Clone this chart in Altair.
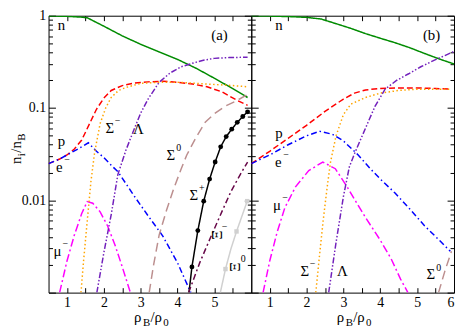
import altair as alt
import pandas as pd

FONT = "Liberation Serif"
W, H = 205, 280

# ---------------- panel (a) ----------------
a_n_x = [0.5, 1.0, 1.4, 1.55, 2.0, 2.5, 3.0, 3.5, 4.0, 4.5, 5.0, 5.5, 5.9]
a_n_y = [0.995, 0.985, 0.965, 0.95, 0.77, 0.605, 0.49, 0.405, 0.336, 0.27, 0.21, 0.162, 0.13]
a_p_x = [0.5, 0.8, 1.0, 1.2, 1.4, 1.6, 1.8, 2.0, 2.2, 2.5, 2.8, 3.2, 3.6, 4.0, 4.4, 4.8, 5.2, 5.6, 5.9]
a_p_y = [0.025, 0.028, 0.031, 0.036, 0.045, 0.066, 0.097, 0.128, 0.155, 0.175, 0.186, 0.192, 0.195, 0.19, 0.182, 0.17, 0.15, 0.122, 0.107]
a_e_x = [0.5, 0.8, 1.0, 1.3, 1.58, 1.8, 2.0, 2.2, 2.38, 2.8, 3.2, 3.6, 4.0, 4.36]
a_e_y = [0.025, 0.028, 0.031, 0.036, 0.042, 0.034, 0.029, 0.024, 0.0205, 0.0115, 0.0068, 0.0041, 0.0021, 0.001]
a_mu_x = [0.8, 1.0, 1.2, 1.4, 1.55, 1.7, 1.9, 2.1, 2.3, 2.5, 2.72]
a_mu_y = [0.001, 0.0022, 0.0042, 0.0072, 0.0097, 0.0093, 0.0075, 0.0053, 0.0033, 0.0019, 0.001]
a_sm_x = [1.38, 1.45, 1.55, 1.65, 1.75, 1.9, 2.05, 2.2, 2.4, 2.6, 3.0, 3.5, 4.0, 4.5, 5.0, 5.5, 5.9]
a_sm_y = [0.001, 0.0022, 0.006, 0.016, 0.033, 0.068, 0.1, 0.13, 0.155, 0.167, 0.185, 0.19, 0.19, 0.185, 0.18, 0.175, 0.17]
a_la_x = [1.81, 2.0, 2.2, 2.38, 2.6, 2.8, 3.0, 3.2, 3.5, 3.8, 4.1, 4.4, 4.7, 5.0, 5.4, 5.9]
a_la_y = [0.001, 0.0027, 0.007, 0.019, 0.035, 0.056, 0.088, 0.125, 0.19, 0.24, 0.28, 0.305, 0.33, 0.345, 0.352, 0.355]
a_s0_x = [3.23, 3.35, 3.5, 3.7, 3.9, 4.1, 4.25, 4.5, 4.75, 5.0, 5.3, 5.6, 5.9]
a_s0_y = [0.001, 0.002, 0.0042, 0.0078, 0.0135, 0.022, 0.031, 0.048, 0.07, 0.087, 0.105, 0.12, 0.14]
a_sp_x = [4.31, 4.39, 4.55, 4.71, 4.87, 5.02, 5.17, 5.32, 5.47, 5.62, 5.77, 5.9]
a_sp_y = [0.001, 0.0019, 0.0047, 0.0098, 0.017, 0.026, 0.038, 0.049, 0.059, 0.07, 0.081, 0.091]
a_xm_x = [4.3, 4.6, 4.9, 5.2, 5.45, 5.7, 5.9]
a_xm_y = [0.001, 0.0021, 0.004, 0.0075, 0.0125, 0.019, 0.026]
a_x0_x = [5.16, 5.3, 5.45, 5.6, 5.75, 5.89]
a_x0_y = [0.001, 0.0018, 0.003, 0.0046, 0.0068, 0.0098]

a_lab_text = ["n", "(a)", "p", "e", "Σ", "Λ", "Σ", "Σ", "μ"]
a_lab_x = [0.85, 5.14, 0.85, 0.79, 2.16, 2.94, 3.82, 4.44, 0.74]
a_lab_y = [0.79, 0.62, 0.044, 0.023, 0.061, 0.059, 0.031, 0.0113, 0.00284]
a_sup_text = ["−", "−", "0", "+", "−"]
a_sup_x = [0.79, 2.16, 3.82, 4.44, 0.74]
a_sup_y = [0.023, 0.061, 0.031, 0.0113, 0.00284]
a_rot_text = ["Ξ", "Ξ"]
a_rot_x = [5.06, 5.57]
a_rot_y = [0.0042, 0.0019]
a_rsup_text = ["−", "0"]

# ---------------- panel (b) ----------------
b_n_x = [0.5, 1.0, 1.5, 2.0, 2.4, 2.8, 3.2, 3.6, 4.0, 4.4, 4.8, 5.2, 5.6, 6.0]
b_n_y = [1.0, 0.99, 0.98, 0.96, 0.92, 0.82, 0.73, 0.64, 0.57, 0.51, 0.45, 0.39, 0.34, 0.30]
b_p_x = [0.5, 1.0, 1.5, 2.0, 2.5, 3.0, 3.3, 3.6, 4.0, 4.5, 5.0, 5.5, 5.9]
b_p_y = [0.025, 0.034, 0.047, 0.065, 0.092, 0.125, 0.145, 0.157, 0.163, 0.165, 0.165, 0.163, 0.16]
b_e_x = [0.5, 1.0, 1.5, 2.0, 2.35, 2.7, 3.0, 3.4, 3.73, 4.0, 4.4, 4.77, 5.2, 5.6, 5.9]
b_e_y = [0.025, 0.031, 0.04, 0.05, 0.056, 0.052, 0.044, 0.031, 0.022, 0.017, 0.012, 0.0083, 0.0053, 0.0037, 0.0028]
b_mu_x = [0.82, 1.0, 1.2, 1.41, 1.7, 2.06, 2.44, 2.78, 3.1, 3.4, 3.6, 4.0, 4.3, 4.55, 4.75]
b_mu_y = [0.001, 0.0022, 0.0045, 0.0083, 0.014, 0.021, 0.026, 0.022, 0.014, 0.0088, 0.0065, 0.0037, 0.0023, 0.0014, 0.001]
b_sm_x = [2.25, 2.35, 2.45, 2.55, 2.65, 2.8, 3.0, 3.2, 3.6, 4.0, 4.5, 5.0, 5.5, 5.9]
b_sm_y = [0.001, 0.0025, 0.006, 0.013, 0.026, 0.05, 0.085, 0.11, 0.13, 0.145, 0.155, 0.16, 0.16, 0.16]
b_la_x = [2.6, 2.8, 3.0, 3.16, 3.3, 3.5, 3.7, 3.86, 4.13, 4.45, 4.77, 5.1, 5.47, 5.75, 6.0]
b_la_y = [0.001, 0.0035, 0.011, 0.023, 0.032, 0.049, 0.075, 0.105, 0.16, 0.2, 0.235, 0.28, 0.33, 0.37, 0.41]
b_s0_x = [5.58, 5.75, 5.93]
b_s0_y = [0.001, 0.0017, 0.0028]

b_lab_text = ["n", "(b)", "p", "e", "μ", "Σ", "Λ", "Σ"]
b_lab_x = [1.25, 5.39, 1.25, 1.23, 1.2, 1.95, 2.97, 5.37]
b_lab_y = [0.79, 0.62, 0.054, 0.0258, 0.0089, 0.00173, 0.00173, 0.00157]
b_sup_text = ["−", "−", "−", "0"]
b_sup_x = [1.23, 1.2, 1.95, 5.37]
b_sup_y = [0.0258, 0.0089, 0.00173, 0.00157]

# axis tick values
y_major = [0.001, 0.01, 0.1, 1]
y_minor = [k * 10 ** e for e in (-3, -2, -1) for k in range(2, 10)]
y_labels = [0.01, 0.1, 1]
x_ticks = [1, 1.5, 2, 2.5, 3, 3.5, 4, 4.5, 5, 5.5]
a_x_labels = [1, 2, 3, 4, 5]
b_x_labels = [1, 2, 3, 4, 5, 6]

SERIES = ["n", "p", "e", "mu", "Sm", "L", "S0", "Sp", "Xm", "X0"]
COLORS = ["#008b00", "#ff0000", "#0000ff", "#ff00ff", "#ffa500", "#7221bc",
          "#bc8f8f", "#000000", "#670748", "#d0d0d0"]
DASHES = [[1, 0], [6, 3], [6, 3, 1.5, 3], [8, 3, 2, 3], [1.5, 2.5],
          [6, 2, 1.5, 2, 1.5, 2], [9, 5], [1, 0], [6, 3, 2, 3], [1, 0]]
WIDTHS = [1.5, 1.5, 1.5, 1.5, 1.6, 1.5, 1.5, 1.2, 1.5, 1.2]

XS = alt.Scale(domain=[0.5, 6], nice=False, zero=False)
YS = alt.Scale(type="log", domain=[0.001, 1], nice=False)


def series_df(names, xs_list, ys_list):
    rows = []
    for nm, xs, ys in zip(names, xs_list, ys_list):
        for x, y in zip(xs, ys):
            rows.append({"series": nm, "x": x, "y": y})
    return pd.DataFrame(rows)


def tick_axis(orient, values, size, offset):
    return alt.Axis(orient=orient, values=values, tickSize=size, offset=offset,
                    labels=False, domain=False, grid=False, ticks=True,
                    title=None, tickColor="black", tickWidth=1, minExtent=0)


def piece(text, x, y, size, angle=0):
    return alt.Chart(pd.DataFrame({"t": [text]})).mark_text(
        font=FONT, fontSize=size, align="left", baseline="alphabetic",
        angle=angle, color="black"
    ).encode(text="t:N", x=alt.value(x), y=alt.value(y))


def panel(df, labx, laby, labt, supx, supy, supt, x_labels, show_y,
          markers=None, squares=None, rot=None):
    layers = []
    ylab_axis = alt.Axis(orient="left", values=y_labels, format="~g", ticks=False,
                         domain=False, grid=False, labelPadding=3, title=None,
                         minExtent=0) if show_y else None
    lines = alt.Chart(df).mark_line(clip=True).encode(
        x=alt.X("x:Q", scale=XS, axis=alt.Axis(orient="bottom", values=x_labels, format="~g",
                                               ticks=False, domain=False, grid=False,
                                               labelPadding=3, title=None, minExtent=0)),
        y=alt.Y("y:Q", scale=YS, axis=ylab_axis),
        color=alt.Color("series:N", scale=alt.Scale(domain=SERIES, range=COLORS), legend=None),
        strokeDash=alt.StrokeDash("series:N", scale=alt.Scale(domain=SERIES, range=DASHES), legend=None),
        strokeWidth=alt.StrokeWidth("series:N", scale=alt.Scale(domain=SERIES, range=WIDTHS), legend=None),
    )
    layers.append(lines)

    tdf = pd.DataFrame({"x": [0.5, 6], "y": [0.001, 1]})
    carriers = [
        (tick_axis("right", y_major, 7, -W), tick_axis("top", x_ticks, 5, -H)),
        (tick_axis("right", y_minor, 4, -W), tick_axis("bottom", x_ticks, 5, -H)),
        (tick_axis("left", y_major, 7, -W), None),
        (tick_axis("left", y_minor, 4, -W), None),
    ]
    for yax, xax in carriers:
        layers.append(alt.Chart(tdf).mark_point(opacity=0, size=1).encode(
            x=alt.X("x:Q", scale=XS, axis=xax),
            y=alt.Y("y:Q", scale=YS, axis=yax)))

    if markers is not None:
        layers.append(alt.Chart(markers).mark_circle(size=24, color="black", opacity=1).encode(
            x=alt.X("x:Q", scale=XS, axis=None), y=alt.Y("y:Q", scale=YS, axis=None)))
    if squares is not None:
        layers.append(alt.Chart(squares).mark_square(size=20, color="#d0d0d0", opacity=1).encode(
            x=alt.X("x:Q", scale=XS, axis=None), y=alt.Y("y:Q", scale=YS, axis=None)))

    lab = pd.DataFrame({"t": labt, "x": labx, "y": laby})
    layers.append(alt.Chart(lab).mark_text(font=FONT, fontSize=15, color="black",
                                           align="center", baseline="middle").encode(
        x=alt.X("x:Q", scale=XS, axis=None), y=alt.Y("y:Q", scale=YS, axis=None), text="t:N"))
    sup = pd.DataFrame({"t": supt, "x": supx, "y": supy})
    layers.append(alt.Chart(sup).mark_text(font=FONT, fontSize=10, color="black",
                                           align="center", baseline="middle", dx=8, dy=-7).encode(
        x=alt.X("x:Q", scale=XS, axis=None), y=alt.Y("y:Q", scale=YS, axis=None), text="t:N"))
    if rot is not None:
        rdf, rsdf = rot
        layers.append(alt.Chart(rdf).mark_text(font=FONT, fontSize=15, color="black", angle=90,
                                               align="center", baseline="middle").encode(
            x=alt.X("x:Q", scale=XS, axis=None), y=alt.Y("y:Q", scale=YS, axis=None), text="t:N"))
        layers.append(alt.Chart(rsdf).mark_text(font=FONT, fontSize=10, color="black",
                                                align="center", baseline="middle", dx=8, dy=-8).encode(
            x=alt.X("x:Q", scale=XS, axis=None), y=alt.Y("y:Q", scale=YS, axis=None), text="t:N"))

    # x-axis title  rho_B / rho_0
    x0 = W / 2 - 16
    yb = H + 30
    layers += [piece("ρ", x0, yb, 15), piece("B", x0 + 9, yb + 4, 11),
               piece("/ρ", x0 + 16.5, yb, 15), piece("0", x0 + 29.5, yb + 4, 11)]
    if show_y:
        y0 = 150
        layers += [piece("n", -28, y0, 15, 270), piece("i", -24, y0 - 8, 11, 270),
                   piece("/n", -28, y0 - 11.5, 15, 270), piece("B", -24, y0 - 23.5, 11, 270)]

    return alt.layer(*layers).resolve_axis(x="independent", y="independent").properties(width=W, height=H)


df_a = series_df(SERIES,
                 [a_n_x, a_p_x, a_e_x, a_mu_x, a_sm_x, a_la_x, a_s0_x, a_sp_x, a_xm_x, a_x0_x],
                 [a_n_y, a_p_y, a_e_y, a_mu_y, a_sm_y, a_la_y, a_s0_y, a_sp_y, a_xm_y, a_x0_y])
df_b = series_df(SERIES[:7],
                 [b_n_x, b_p_x, b_e_x, b_mu_x, b_sm_x, b_la_x, b_s0_x],
                 [b_n_y, b_p_y, b_e_y, b_mu_y, b_sm_y, b_la_y, b_s0_y])

sp_marks = pd.DataFrame({"x": a_sp_x[1:], "y": a_sp_y[1:]})
x0_marks = pd.DataFrame({"x": [a_x0_x[1], a_x0_x[3], a_x0_x[5]], "y": [a_x0_y[1], a_x0_y[3], a_x0_y[5]]})
rot_a = (pd.DataFrame({"t": a_rot_text, "x": a_rot_x, "y": a_rot_y}),
         pd.DataFrame({"t": a_rsup_text, "x": a_rot_x, "y": a_rot_y}))

pa = panel(df_a, a_lab_x, a_lab_y, a_lab_text, a_sup_x, a_sup_y, a_sup_text, a_x_labels, True,
           markers=sp_marks, squares=x0_marks, rot=rot_a)
pb = panel(df_b, b_lab_x, b_lab_y, b_lab_text, b_sup_x, b_sup_y, b_sup_text, b_x_labels, False)

chart = alt.hconcat(pa, pb, spacing=0, bounds="flush").properties(
    padding={"left": 0, "top": -2, "right": 0, "bottom": 0}
).configure_view(stroke="black", strokeWidth=1).configure_axis(
    labelFont=FONT, labelFontSize=14, labelColor="black", tickColor="black"
)

chart.save("out.html", embed_options={"renderer": "svg", "actions": False})
